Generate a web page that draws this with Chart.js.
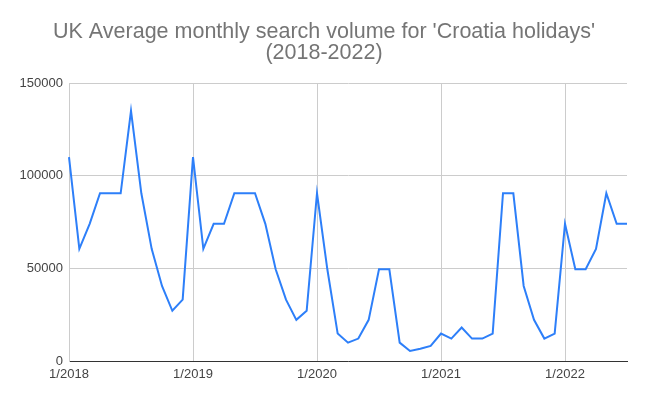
<!DOCTYPE html>
<html>
<head>
<meta charset="utf-8">
<script src="https://cdn.jsdelivr.net/npm/chart.js@4"></script>
<style>
  html, body { margin: 0; padding: 0; background: #fff; }
  #wrap { width: 648px; height: 401px; }
</style>
</head>
<body>
<div id="wrap"><canvas id="chart"></canvas></div>
<script>
// Months Jan 2018 .. Jul 2022
const months = [
  '1/2018','2/2018','3/2018','4/2018','5/2018','6/2018','7/2018','8/2018','9/2018','10/2018','11/2018','12/2018',
  '1/2019','2/2019','3/2019','4/2019','5/2019','6/2019','7/2019','8/2019','9/2019','10/2019','11/2019','12/2019',
  '1/2020','2/2020','3/2020','4/2020','5/2020','6/2020','7/2020','8/2020','9/2020','10/2020','11/2020','12/2020',
  '1/2021','2/2021','3/2021','4/2021','5/2021','6/2021','7/2021','8/2021','9/2021','10/2021','11/2021','12/2021',
  '1/2022','2/2022','3/2022','4/2022','5/2022','6/2022','7/2022'
];

// Average monthly search volume
const searchVolume = [
  110000, 60500, 74000, 90500, 90500, 90500, 135000, 90500, 60500, 40500, 27100, 33100,
  110000, 60500, 74000, 74000, 90500, 90500, 90500, 74000, 49500, 33100, 22200, 27100,
  90500, 49500, 14800, 9900, 12100, 22200, 49500, 49500, 9900, 5400, 6600, 8100,
  14800, 12100, 18100, 12100, 12100, 14800, 90500, 90500, 40500, 22200, 12100, 14800,
  74000, 49500, 49500, 60500, 90500, 74000, 74000
];

const yTicks = [0, 50000, 100000, 150000];

const titleLines = ["UK Average monthly search volume for 'Croatia holidays'", '(2018-2022)'];

const tickFont = { family: '"Liberation Sans", Arial, sans-serif', size: 13 };

// centre the title over the whole canvas, not the padded box
const centerTitle = {
  id: 'centerTitle',
  afterLayout(chart) {
    const t = chart.titleBlock;
    if (!t) return;
    t.left = 0;
    t.right = chart.width;
    t.width = chart.width;
  }
};

new Chart(document.getElementById('chart'), {
  type: 'line',
  data: {
    labels: months,
    datasets: [{
      data: searchVolume,
      borderColor: '#2d7ff9',
      borderWidth: 2,
      pointRadius: 0,
      tension: 0,
      fill: false
    }]
  },
  options: {
    responsive: true,
    maintainAspectRatio: false,
    animation: false,
    layout: { padding: { top: 0, right: 21, bottom: 0, left: 0 } },
    plugins: {
      legend: { display: false },
      tooltip: { enabled: false },
      title: {
        display: true,
        text: titleLines,
        color: '#757575',
        font: { family: '"Liberation Sans", Arial, sans-serif', size: 21.5, weight: 'normal', lineHeight: 1.0 },
        padding: { top: 21, bottom: 19 }
      }
    },
    scales: {
      x: {
        type: 'category',
        offset: false,
        grid: {
          drawTicks: false,
          color: ctx => (ctx.index % 12 === 0 ? '#cccccc' : 'rgba(0,0,0,0)')
        },
        border: { color: '#333333', width: 1 },
        ticks: {
          autoSkip: false,
          maxRotation: 0,
          padding: 6,
          color: '#444444',
          font: tickFont,
          callback: (v, i) => (i % 12 === 0 ? months[i] : '')
        },
        afterFit: s => { s.height = 40; }
      },
      y: {
        min: 0,
        max: 150000,
        afterBuildTicks: s => { s.ticks = yTicks.map(v => ({ value: v })); },
        grid: { drawTicks: false, color: '#cccccc' },
        border: { color: '#cccccc' },
        ticks: { padding: 6, color: '#444444', font: tickFont, callback: v => String(v) },
        afterFit: s => { s.width = 69; }
      }
    }
  },
  plugins: [centerTitle]
});
</script>
</body>
</html>
